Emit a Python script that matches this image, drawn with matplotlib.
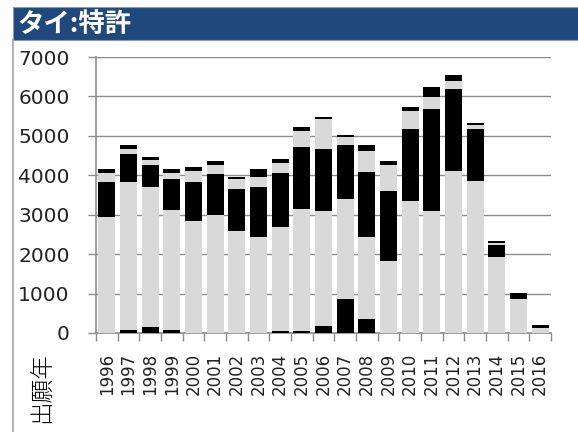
import matplotlib.pyplot as plt
from matplotlib.patches import Rectangle
import numpy as np

years = [str(y) for y in range(1996, 2017)]

# stacked segments, bottom to top
seg1 = [0, 80, 140, 70, 0, 0, 0, 0, 60, 60, 180, 855, 347, 0, 0, 0, 0, 0, 0, 0, 0]
seg2 = [2950, 3757, 3555, 3057, 2833, 2992, 2579, 2427, 2621, 3077, 2906,
        2536, 2080, 1818, 3340, 3086, 4101, 3847, 1920, 855, 127]
seg3 = [887, 710, 558, 771, 1004, 1048, 1065, 1268, 1369, 1572, 1573,
        1369, 1656, 1776, 1826, 2587, 2079, 1319, 304, 152, 68]
seg4 = [213, 112, 142, 152, 264, 213, 254, 254, 254, 406, 760,
        203, 525, 659, 456, 304, 203, 101, 51, 0, 0]
seg5 = [100, 100, 61, 101, 101, 101, 58, 202, 101, 102, 51,
        51, 152, 101, 102, 254, 152, 51, 50, 0, 0]

segments = [seg1, seg2, seg3, seg4, seg5]
colors = ['#000000', '#d9d9d9', '#000000', '#d9d9d9', '#000000']

W, H = 578, 432
fig = plt.figure(figsize=(W / 100, H / 100), dpi=100)
fig.patch.set_facecolor('white')

# outer frame and title bar
fig.patches.append(Rectangle((13 / W, -0.1), 1.0, (H - 40) / H + 0.1,
                             transform=fig.transFigure, facecolor='none',
                             edgecolor='#a6a6a6', linewidth=1.2))
fig.patches.append(Rectangle((13 / W, (H - 40) / H), 1.0, 33 / H,
                             transform=fig.transFigure, facecolor='#1f497d',
                             edgecolor='#8a9bb0', linewidth=0.8))
fig.text(17 / W, (H - 24) / H, 'タイ:特許', color='white', fontsize=19,
         fontweight='bold', family=['Noto Sans CJK JP', 'DejaVu Sans'],
         ha='left', va='center')

ax = fig.add_axes([96 / W, (H - 333) / H, (551 - 96) / W, (333 - 57) / H])

x = np.arange(len(years))
bottom = np.zeros(len(years))
for vals, c in zip(segments, colors):
    vals = np.array(vals, dtype=float)
    ax.bar(x, vals, width=0.77, bottom=bottom, color=c, linewidth=0, zorder=3)
    bottom += vals

ax.set_xlim(-0.5, len(years) - 0.5)
ax.set_ylim(0, 7000)
ax.set_yticks(range(0, 7001, 1000))
ax.yaxis.grid(True, color='#8c8c8c', linewidth=1.0, zorder=0)

ax.set_xticks(np.arange(-0.5, len(years), 1.0))
ax.set_xticklabels([])
ax.set_xticks(x, minor=True)
ax.set_xticklabels(years, minor=True, rotation=90, fontsize=12,
                   color='#222222')
ax.tick_params(axis='x', which='minor', length=0, pad=14)
ax.tick_params(axis='x', which='major', length=6, color='#8c8c8c', width=1.0)
ax.tick_params(axis='y', length=6, color='#8c8c8c', width=1.0, pad=13,
               labelsize=14.5, labelcolor='#222222')

for s in ['top', 'right']:
    ax.spines[s].set_visible(False)
for s in ['left', 'bottom']:
    ax.spines[s].set_color('#8c8c8c')
    ax.spines[s].set_linewidth(1.2)

fig.text(42 / W, (H - 388) / H, '出願年', rotation=90, fontsize=17,
         family=['Noto Sans CJK JP', 'DejaVu Sans'], fontweight='light',
         ha='center', va='center')

fig.savefig('out.png', dpi=100)
